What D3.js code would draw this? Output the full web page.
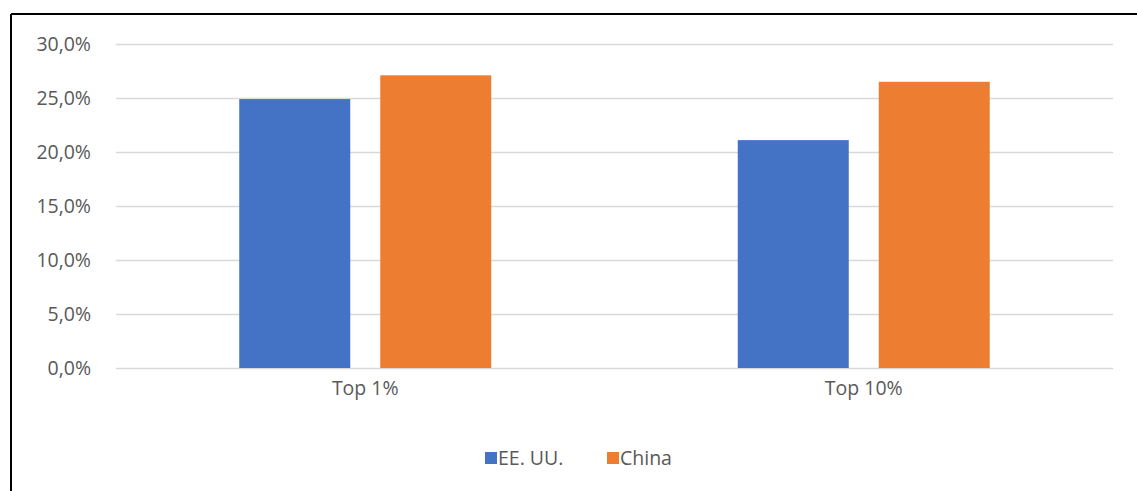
<!DOCTYPE html>
<html>
<head>
<meta charset="utf-8">
<script src="https://cdn.jsdelivr.net/npm/d3@7"></script>
<style>
  html, body { margin: 0; padding: 0; background: #fff; }
  svg { display: block; }
</style>
</head>
<body>
<svg id="chart" width="1137" height="491"></svg>
<script>
// Share of wealth held by the top groups
const categories = ["Top 1%", "Top 10%"];
const seriesNames = ["EE. UU.", "China"];
const usValues = [0.249, 0.211];
const chinaValues = [0.271, 0.265];
const tickValues = [0, 0.05, 0.10, 0.15, 0.20, 0.25, 0.30];

const colors = { "EE. UU.": "#4472C4", "China": "#ED7D31" };
const fontFamily = "'Open Sans', 'Liberation Sans', sans-serif";
const fontSize = 19.5;
const textColor = "#595959";

const svg = d3.select("#chart");
const W = 1137, H = 491;
const plot = { left: 116, right: 1113, top: 44, bottom: 368 };

// frame of the chart area
svg.append("line").attr("x1", 11).attr("x2", W).attr("y1", 14).attr("y2", 14)
  .attr("stroke", "#000").attr("stroke-width", 2);
svg.append("line").attr("x1", 11).attr("x2", 11).attr("y1", 14).attr("y2", H)
  .attr("stroke", "#000").attr("stroke-width", 2);

const y = d3.scaleLinear().domain([0, 0.30]).range([plot.bottom, plot.top]);
const x0 = d3.scaleBand().domain(categories).range([plot.left, plot.right]);
// two bars per group, 111px wide with a 30px gap
const groupWidth = 252;
const x1 = d3.scaleBand().domain(seriesNames).range([0, groupWidth]).paddingInner(30 / 141);

const fmt = v => d3.format(".1f")(v * 100).replace(".", ",") + "%";

// gridlines and y labels
const yAxis = d3.axisLeft(y).tickValues(tickValues).tickFormat(fmt)
  .tickSize(-(plot.right - plot.left)).tickPadding(25);
const ga = svg.append("g").attr("transform", `translate(${plot.left},0)`).call(yAxis);
ga.select(".domain").remove();
ga.selectAll(".tick line").attr("stroke", "#d9d9d9").attr("stroke-width", 1.3);
ga.selectAll(".tick text").attr("fill", textColor).attr("font-size", fontSize)
  .attr("font-family", fontFamily);

// bars
const rows = categories.map((c, i) => ({ cat: c, vals: [
  { s: "EE. UU.", v: usValues[i] }, { s: "China", v: chinaValues[i] } ] }));
const groups = svg.append("g").selectAll("g").data(rows).join("g")
  .attr("transform", d => `translate(${x0(d.cat) + x0.bandwidth() / 2 - groupWidth / 2},0)`);
groups.selectAll("rect").data(d => d.vals).join("rect")
  .attr("x", d => x1(d.s))
  .attr("width", x1.bandwidth())
  .attr("y", d => y(d.v))
  .attr("height", d => y(0) - y(d.v))
  .attr("fill", d => colors[d.s]);

// category labels
const xAxis = d3.axisBottom(x0).tickSize(0).tickPadding(13);
const gx = svg.append("g").attr("transform", `translate(0,${plot.bottom})`).call(xAxis);
gx.select(".domain").remove();
gx.selectAll(".tick text").attr("fill", textColor).attr("font-size", fontSize)
  .attr("font-family", fontFamily);

// legend
const legendItems = [{ s: "EE. UU.", x: 485 }, { s: "China", x: 607 }];
const lg = svg.append("g").selectAll("g").data(legendItems).join("g")
  .attr("transform", d => `translate(${d.x},458)`);
lg.append("rect").attr("x", 0).attr("y", -6).attr("width", 12).attr("height", 12)
  .attr("fill", d => colors[d.s]);
lg.append("text").attr("x", 13).attr("y", 0).attr("dy", "0.35em")
  .attr("fill", textColor).attr("font-size", fontSize).attr("font-family", fontFamily)
  .text(d => d.s);
</script>
</body>
</html>
